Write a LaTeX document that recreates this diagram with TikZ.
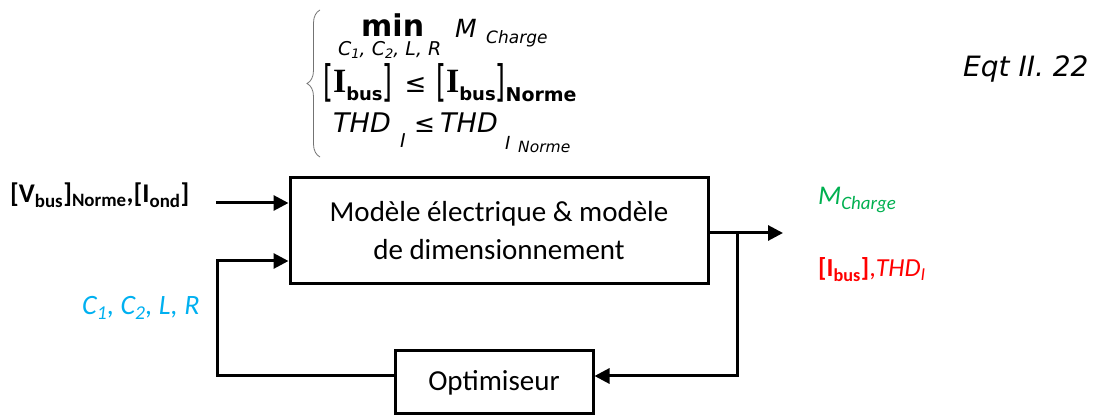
\documentclass[tikz,border=0pt]{standalone}
\usepackage{fontspec}
\usepackage{graphicx}
\setmainfont{Carlito}
\newfontfamily\verd{DejaVu Sans}
\newfontfamily\tnr{Liberation Serif}
\usetikzlibrary{arrows.meta,decorations.pathreplacing}
\definecolor{cgreen}{RGB}{0,176,80}
\definecolor{ccyan}{RGB}{0,176,240}
\definecolor{cred}{RGB}{255,0,0}
\newcommand\bbr[1]{\scalebox{0.9}[1.55]{\verd\fontsize{28}{28}\selectfont #1}}
\newcommand\ibus{\raisebox{4pt}{\tnr\bfseries\fontsize{34}{34}\selectfont I}\raisebox{-4pt}{\verd\bfseries\fontsize{18}{18}\selectfont bus}}
\tikzset{
  blk/.style={draw, line width=3pt, inner sep=0pt, align=center, font=\fontsize{29}{38}\selectfont},
  conn/.style={line width=3pt},
  arr/.style={conn, -{Triangle[length=15pt,width=15pt]}},
  txt/.style={inner sep=0pt, anchor=base west},
  eqtxt/.style={inner sep=0pt, anchor=base west, font=\verd},
}
\begin{document}
\begin{tikzpicture}[x=1pt,y=-1pt]
\useasboundingbox (0,0) rectangle (1101,419);
% equation
\draw[decorate, decoration={brace, amplitude=13pt}, line width=0.8pt, black!55] (320,157) -- (320,10);
\node[eqtxt, font=\verd\bfseries\fontsize{30}{30}\selectfont] (min) at (361,37) {min};
\node[eqtxt, font=\verd\itshape\fontsize{25}{25}\selectfont] (mc) at (455,38) {M};
\node[eqtxt, font=\verd\itshape\fontsize{17}{17}\selectfont] (mcs) at (486,44) {Charge};
\node[eqtxt, font=\verd\itshape\fontsize{19}{19}\selectfont] (vars) at (338,56) {C\raisebox{-3pt}{\fontsize{13}{13}\selectfont 1}, C\raisebox{-3pt}{\fontsize{13}{13}\selectfont 2}, L, R};
% line 2
\node[eqtxt] (l2) at (323,97) {\bbr{[}\ibus\bbr{]}\hspace{12pt}\raisebox{4pt}{\verd\fontsize{26}{26}\selectfont ≤}\hspace{10pt}\bbr{[}\ibus\bbr{]}\raisebox{-5pt}{\verd\bfseries\fontsize{19}{19}\selectfont Norme}};
% line 3
\node[eqtxt, font=\verd\itshape\fontsize{27}{27}\selectfont] (thd1) at (333,133) {THD};
\node[eqtxt, font=\verd\itshape\fontsize{19}{19}\selectfont] (s1) at (400,148) {I};
\node[eqtxt, font=\verd\fontsize{25}{25}\selectfont] (le2) at (414,133) {≤};
\node[eqtxt, font=\verd\itshape\fontsize{27}{27}\selectfont] (thd2) at (440,133) {THD};
\node[eqtxt, font=\verd\itshape\fontsize{18}{18}\selectfont] (s2) at (505,150) {I};
\node[eqtxt, font=\verd\itshape\fontsize{15.5}{15.5}\selectfont] (s3) at (518,153) {Norme};
\node[eqtxt, font=\verd\itshape\fontsize{28}{28}\selectfont] (eqt) at (963,77) {Eqt II. 22};
% blocks
\node[blk, minimum width=418pt, minimum height=106pt] (model) at (499,231) {Modèle électrique \& modèle\\de dimensionnement};
\node[blk, minimum width=198pt, minimum height=63pt] (opt) at (494,382.5) {Optimiseur};
% labels
\node[txt, font=\bfseries\fontsize{27}{27}\selectfont] (lin) at (10,203) {[V\textsubscript{bus}]\textsubscript{Norme},[I\textsubscript{ond}]};
\node[txt, text=ccyan, font=\itshape\fontsize{28}{28}\selectfont] (lvars) at (82,315) {C\textsubscript{1}, C\textsubscript{2}, L, R};
\node[txt, text=cgreen, font=\itshape\fontsize{27}{27}\selectfont] (lm) at (818,205) {M\textsubscript{Charge}};
\node[txt, text=cred, font=\fontsize{26}{26}\selectfont] (lr) at (818,277) {{\bfseries [I\textsubscript{bus}]},\itshape THD\textsubscript{I}};
% connectors
\coordinate (in1) at (216,203);
\coordinate (cl) at (217,376);
\coordinate (out) at (783,233);
\coordinate (br) at (737.5,233);
\draw[arr] (in1) -- (in1 -| model.west);
\draw[arr] (opt.west |- cl) -- (cl) |- (model.west |- 0,261);
\draw[arr] (model.east |- out) -- (out);
\draw[arr] (br) |- (opt.east |- cl);
\end{tikzpicture}
\end{document}
